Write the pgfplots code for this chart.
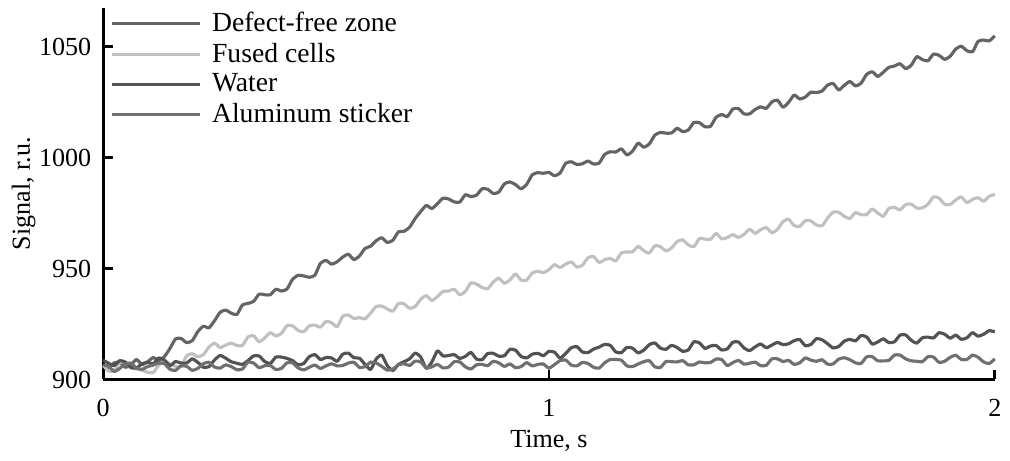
\documentclass[border=0pt]{standalone}
\usepackage{fontspec}
\setmainfont{Liberation Serif}
\usepackage{pgfplots}
\pgfplotsset{compat=1.18}
\definecolor{cdefect}{RGB}{100,100,100}
\definecolor{cfused}{RGB}{192,192,192}
\definecolor{cwater}{RGB}{82,82,82}
\definecolor{calum}{RGB}{112,112,112}
\begin{document}
\begin{tikzpicture}
\begin{axis}[
  scale only axis,
  width=342pt, height=142.5pt,
  xmin=0, xmax=2, ymin=900, ymax=1067.6,
  axis lines*=left,
  axis line style={line width=1.1pt},
  clip=false,
  xtick={0,1,2}, ytick={900,950,1000,1050},
  tick align=inside,
  major tick length=3.8pt,
  tick style={line width=1.1pt, black},
  /pgf/number format/assume math mode=true,
  /pgf/number format/1000 sep={},
  yticklabel style={xshift=-1pt},
  xticklabel style={yshift=-4pt},
  xlabel={Time, s},
  ylabel={Signal, r.u.},
  xlabel style={at={(axis description cs:0.5,-0.165)}, anchor=center},
  ylabel style={at={(axis description cs:-0.089,0.5)}, anchor=center},
  legend image code/.code={\draw[#1] (0pt,0pt) -- (34pt,0pt); \path (35.9pt,0pt);},
  legend style={at={(axis description cs:0,1)}, anchor=north west, xshift=2.5pt, yshift=0.6pt,
    draw=none, fill=none, inner sep=0pt, row sep=-1.1pt, cells={anchor=west},
    font=\fontsize{10.6}{12.7}\selectfont},
  every axis plot/.append style={line width=1.2pt, line join=round, smooth, tension=0.35},
]
\path (rel axis cs:-0.1156,-0.1973) rectangle (rel axis cs:1.0067,1.0213);

\addplot[color=cdefect] coordinates {
(0.0000,906) (0.0125,905.2) (0.0250,907.5) (0.0375,907.7) (0.0500,905.5) (0.0625,906.7) (0.0750,909) (0.0875,906.7)
(0.1000,908) (0.1125,909.9) (0.1250,908.5) (0.1375,910.3) (0.1500,914) (0.1625,918.3) (0.1750,918.5) (0.1875,916.6)
(0.2000,917.5) (0.2125,921.6) (0.2250,924) (0.2375,923.3) (0.2500,926.5) (0.2625,930.3) (0.2750,931.3) (0.2875,929.9)
(0.3000,929.3) (0.3125,933.6) (0.3250,934.3) (0.3375,935.2) (0.3500,938.5) (0.3625,938.2) (0.3750,938.2) (0.3875,940.7)
(0.4000,939.9) (0.4125,940.8) (0.4250,945.2) (0.4375,947) (0.4500,946.7) (0.4625,946.1) (0.4750,947) (0.4875,952.4)
(0.5000,953.7) (0.5125,952) (0.5250,953.1) (0.5375,955.2) (0.5500,956.5) (0.5625,954.1) (0.5750,955.7) (0.5875,959.1)
(0.6000,960.1) (0.6125,962.6) (0.6250,963.9) (0.6375,961.8) (0.6500,962.8) (0.6625,966.6) (0.6750,966.8) (0.6875,968.7)
(0.7000,972.6) (0.7125,975.8) (0.7250,978.5) (0.7375,977.1) (0.7500,979.3) (0.7625,981.8) (0.7750,981.4) (0.7875,980.1)
(0.8000,980) (0.8125,983.3) (0.8250,982.5) (0.8375,983.1) (0.8500,986) (0.8625,985.8) (0.8750,983.9) (0.8875,984.5)
(0.9000,988.2) (0.9125,989.1) (0.9250,987.9) (0.9375,986) (0.9500,988) (0.9625,992.3) (0.9750,993.3) (0.9875,993)
(1.0000,993.4) (1.0125,991.9) (1.0250,993.1) (1.0375,997.5) (1.0500,998.2) (1.0625,997) (1.0750,997.3) (1.0875,998.5)
(1.1000,997.2) (1.1125,997.6) (1.1250,1001.5) (1.1375,1002.7) (1.1500,1002.6) (1.1625,1004) (1.1750,1001.3) (1.1875,1003)
(1.2000,1006.6) (1.2125,1004.8) (1.2250,1006.2) (1.2375,1010.2) (1.2500,1011.4) (1.2625,1011.1) (1.2750,1011.2) (1.2875,1013.3)
(1.3000,1011.8) (1.3125,1012.5) (1.3250,1015.9) (1.3375,1015.8) (1.3500,1014) (1.3625,1014.2) (1.3750,1018.3) (1.3875,1019.5)
(1.4000,1018.6) (1.4125,1022) (1.4250,1022.2) (1.4375,1019.8) (1.4500,1019.8) (1.4625,1021.8) (1.4750,1023) (1.4875,1022.3)
(1.5000,1025.2) (1.5125,1026) (1.5250,1022.8) (1.5375,1025) (1.5500,1028.3) (1.5625,1026.5) (1.5750,1027.4) (1.5875,1029.6)
(1.6000,1029.4) (1.6125,1030.1) (1.6250,1032.8) (1.6375,1033.5) (1.6500,1030.6) (1.6625,1032.7) (1.6750,1034.4) (1.6875,1032.4)
(1.7000,1033.6) (1.7125,1037.6) (1.7250,1038.8) (1.7375,1036.7) (1.7500,1038.6) (1.7625,1040.8) (1.7750,1041.4) (1.7875,1042.4)
(1.8000,1040.2) (1.8125,1041.7) (1.8250,1045.6) (1.8375,1044.3) (1.8500,1043.7) (1.8625,1046.8) (1.8750,1046.2) (1.8875,1044.4)
(1.9000,1045.8) (1.9125,1049.1) (1.9250,1050.3) (1.9375,1048.3) (1.9500,1047.8) (1.9625,1052.5) (1.9750,1053.1) (1.9875,1052.7)
(2.0000,1055)
};
\addlegendentry{Defect-free zone}

\addplot[color=cfused] coordinates {
(0.0000,906.4) (0.0125,903.7) (0.0250,904.1) (0.0375,907.7) (0.0500,907.7) (0.0625,905.3) (0.0750,904.8) (0.0875,904.2)
(0.1000,903.2) (0.1125,903.1) (0.1250,906.5) (0.1375,908.2) (0.1500,907.1) (0.1625,905.9) (0.1750,905.8) (0.1875,910.7)
(0.2000,911.6) (0.2125,910.2) (0.2250,911.2) (0.2375,914.6) (0.2500,916.4) (0.2625,914.4) (0.2750,915.5) (0.2875,916.4)
(0.3000,915.3) (0.3125,915.3) (0.3250,919.2) (0.3375,919.7) (0.3500,917) (0.3625,918.7) (0.3750,921.1) (0.3875,919.6)
(0.4000,920.8) (0.4125,924.3) (0.4250,924.2) (0.4375,922.1) (0.4500,921.5) (0.4625,924.2) (0.4750,924.5) (0.4875,923.6)
(0.5000,926.2) (0.5125,925.6) (0.5250,923.8) (0.5375,928.5) (0.5500,929.1) (0.5625,927.5) (0.5750,927.9) (0.5875,927.3)
(0.6000,929.9) (0.6125,932.9) (0.6250,933.1) (0.6375,931.8) (0.6500,930.8) (0.6625,934.3) (0.6750,934.1) (0.6875,932.1)
(0.7000,932.9) (0.7125,936.2) (0.7250,937.8) (0.7375,935.6) (0.7500,937.4) (0.7625,939.7) (0.7750,939.9) (0.7875,940.7)
(0.8000,938.2) (0.8125,939.7) (0.8250,943.6) (0.8375,943) (0.8500,941.5) (0.8625,940.9) (0.8750,943.9) (0.8875,945.7)
(0.9000,943.4) (0.9125,944.9) (0.9250,947.6) (0.9375,944.8) (0.9500,944.8) (0.9625,948) (0.9750,948.8) (0.9875,948.2)
(1.0000,949.5) (1.0125,951.8) (1.0250,950.5) (1.0375,952) (1.0500,953) (1.0625,950.7) (1.0750,951.5) (1.0875,954.9)
(1.1000,955.5) (1.1125,952.8) (1.1250,954) (1.1375,954.6) (1.1500,953.5) (1.1625,957.1) (1.1750,957.5) (1.1875,957.6)
(1.2000,960) (1.2125,958.1) (1.2250,957) (1.2375,960.3) (1.2500,959.9) (1.2625,958) (1.2750,959.3) (1.2875,962.2)
(1.3000,963) (1.3125,960.7) (1.3250,959.9) (1.3375,963.6) (1.3500,963.3) (1.3625,963.2) (1.3750,965.9) (1.3875,963.4)
(1.4000,964) (1.4125,965.3) (1.4250,964.1) (1.4375,965.4) (1.4500,967.8) (1.4625,965.9) (1.4750,967.6) (1.4875,968.5)
(1.5000,966.2) (1.5125,967.7) (1.5250,971.2) (1.5375,972.3) (1.5500,969.4) (1.5625,969.1) (1.5750,971.6) (1.5875,971.5)
(1.6000,969.7) (1.6125,969.3) (1.6250,972.8) (1.6375,975.5) (1.6500,975.4) (1.6625,973.6) (1.6750,972.6) (1.6875,975.3)
(1.7000,974.3) (1.7125,974.4) (1.7250,976.9) (1.7375,975.1) (1.7500,973.6) (1.7625,977.2) (1.7750,977.6) (1.7875,976.5)
(1.8000,978.9) (1.8125,979.1) (1.8250,977.3) (1.8375,977.4) (1.8500,979) (1.8625,982.4) (1.8750,981.8) (1.8875,979)
(1.9000,978.9) (1.9125,981) (1.9250,982.3) (1.9375,979.8) (1.9500,981.2) (1.9625,982) (1.9750,980.4) (1.9875,982.6)
(2.0000,983.5)
};
\addlegendentry{Fused cells}

\addplot[color=cwater] coordinates {
(0.0000,908.7) (0.0125,907.3) (0.0250,906.3) (0.0375,908.5) (0.0500,907.8) (0.0625,905.4) (0.0750,905.2) (0.0875,907.1)
(0.1000,907.7) (0.1125,907.1) (0.1250,909.7) (0.1375,908.8) (0.1500,906.2) (0.1625,908.1) (0.1750,907.4) (0.1875,907.4)
(0.2000,909.3) (0.2125,907.7) (0.2250,905.5) (0.2375,905.8) (0.2500,908.8) (0.2625,910.8) (0.2750,909.6) (0.2875,908)
(0.3000,907.3) (0.3125,906.8) (0.3250,908.5) (0.3375,910.6) (0.3500,910.6) (0.3625,908.1) (0.3750,907.2) (0.3875,910.1)
(0.4000,910.1) (0.4125,909.5) (0.4250,908.5) (0.4375,906.6) (0.4500,907.2) (0.4625,910.3) (0.4750,911.2) (0.4875,909)
(0.5000,909.9) (0.5125,909.7) (0.5250,908.2) (0.5375,911.4) (0.5500,911.9) (0.5625,909.8) (0.5750,909.6) (0.5875,906.8)
(0.6000,904.5) (0.6125,909.2) (0.6250,911) (0.6375,906.2) (0.6500,904) (0.6625,906.8) (0.6750,908) (0.6875,909.3)
(0.7000,911.9) (0.7125,910.1) (0.7250,905) (0.7375,907.9) (0.7500,912.9) (0.7625,910.6) (0.7750,910.8) (0.7875,911.2)
(0.8000,909.5) (0.8125,910.4) (0.8250,912.2) (0.8375,909.2) (0.8500,908.9) (0.8625,911.7) (0.8750,911.8) (0.8875,910.5)
(0.9000,910.7) (0.9125,913.6) (0.9250,913.2) (0.9375,910.4) (0.9500,909.7) (0.9625,911.4) (0.9750,911.8) (0.9875,910.7)
(1.0000,912.7) (1.0125,912.3) (1.0250,909.6) (1.0375,911.7) (1.0500,914.3) (1.0625,914.8) (1.0750,912.4) (1.0875,912.1)
(1.1000,913.7) (1.1125,914.6) (1.1250,915.8) (1.1375,915.4) (1.1500,912.4) (1.1625,912.1) (1.1750,914.5) (1.1875,914.1)
(1.2000,912) (1.2125,913.2) (1.2250,915.7) (1.2375,916.5) (1.2500,914.1) (1.2625,913.6) (1.2750,915.4) (1.2875,914.4)
(1.3000,912.7) (1.3125,913.3) (1.3250,917) (1.3375,916.5) (1.3500,914) (1.3625,915.1) (1.3750,915.3) (1.3875,913.3)
(1.4000,913.8) (1.4125,916.8) (1.4250,916.9) (1.4375,914.2) (1.4500,913) (1.4625,914.7) (1.4750,916) (1.4875,914.3)
(1.5000,915.5) (1.5125,916.7) (1.5250,915.7) (1.5375,916.1) (1.5500,917.5) (1.5625,918) (1.5750,915.2) (1.5875,915.8)
(1.6000,918.4) (1.6125,917.9) (1.6250,916.1) (1.6375,914.2) (1.6500,914.9) (1.6625,917.3) (1.6750,918.1) (1.6875,917.4)
(1.7000,919.8) (1.7125,919.2) (1.7250,916) (1.7375,916.9) (1.7500,918.3) (1.7625,916.6) (1.7750,917) (1.7875,920)
(1.8000,920.1) (1.8125,917.7) (1.8250,916.4) (1.8375,918.8) (1.8500,919.1) (1.8625,918.7) (1.8750,921.1) (1.8875,920.4)
(1.9000,918.6) (1.9125,920) (1.9250,918.1) (1.9375,918.8) (1.9500,921.1) (1.9625,919.5) (1.9750,920.4) (1.9875,922)
(2.0000,921.5)
};
\addlegendentry{Water}

\addplot[color=calum] coordinates {
(0.0000,906.5) (0.0125,906) (0.0250,903.6) (0.0375,905) (0.0500,907) (0.0625,907.4) (0.0750,905.1) (0.0875,904.6)
(0.1000,905.8) (0.1125,906.5) (0.1250,907.4) (0.1375,907.1) (0.1500,904.6) (0.1625,904.1) (0.1750,906.2) (0.1875,905.9)
(0.2000,904.1) (0.2125,905) (0.2250,907.1) (0.2375,907.8) (0.2500,905.6) (0.2625,905.1) (0.2750,906.6) (0.2875,905.8)
(0.3000,904.4) (0.3125,904.7) (0.3250,907.8) (0.3375,907.4) (0.3500,905.3) (0.3625,906.2) (0.3750,906.3) (0.3875,904.5)
(0.4000,905) (0.4125,907.5) (0.4250,907.5) (0.4375,905.2) (0.4500,904.3) (0.4625,905.5) (0.4750,906.5) (0.4875,905)
(0.5000,906.1) (0.5125,907.1) (0.5250,906.1) (0.5375,906.3) (0.5500,907.4) (0.5625,907.8) (0.5750,905.4) (0.5875,905.8)
(0.6000,907.8) (0.6125,907.4) (0.6250,905.9) (0.6375,904.2) (0.6500,904.7) (0.6625,906.6) (0.6750,907.1) (0.6875,906.3)
(0.7000,908.3) (0.7125,907.9) (0.7250,905.2) (0.7375,905.7) (0.7500,906.8) (0.7625,905.2) (0.7750,905.6) (0.7875,908)
(0.8000,907.9) (0.8125,905.7) (0.8250,904.7) (0.8375,906.6) (0.8500,906.8) (0.8625,906.2) (0.8750,908.2) (0.8875,907.5)
(0.9000,905.9) (0.9125,907) (0.9250,905.3) (0.9375,905.8) (0.9500,907.6) (0.9625,906.1) (0.9750,906.8) (0.9875,907)
(1.0000,905.1) (1.0125,906.7) (1.0250,908.5) (1.0375,908.8) (1.0500,906.5) (1.0625,906.1) (1.0750,907.7) (1.0875,907.2)
(1.1000,905.5) (1.1125,905.1) (1.1250,907.5) (1.1375,909) (1.1500,909) (1.1625,908.7) (1.1750,906.1) (1.1875,905.8)
(1.2000,907) (1.2125,908) (1.2250,908.5) (1.2375,905.7) (1.2500,905.4) (1.2625,908.1) (1.2750,908) (1.2875,907.9)
(1.3000,908.5) (1.3125,906.6) (1.3250,906.6) (1.3375,907.9) (1.3500,907.5) (1.3625,907.7) (1.3750,909.2) (1.3875,909)
(1.4000,906.3) (1.4125,907.6) (1.4250,908.6) (1.4375,906.9) (1.4500,907.3) (1.4625,907.8) (1.4750,906.2) (1.4875,906.4)
(1.5000,909.3) (1.5125,909.3) (1.5250,908.1) (1.5375,908.6) (1.5500,906.8) (1.5625,907.5) (1.5750,909.7) (1.5875,908.7)
(1.6000,908.2) (1.6125,908.9) (1.6250,906.9) (1.6375,907) (1.6500,909.2) (1.6625,909.8) (1.6750,908.9) (1.6875,907.5)
(1.7000,907.2) (1.7125,910.2) (1.7250,910.3) (1.7375,908.4) (1.7500,908.4) (1.7625,908.6) (1.7750,911) (1.7875,911)
(1.8000,909.3) (1.8125,908.4) (1.8250,908.2) (1.8375,908) (1.8500,910.3) (1.8625,910.1) (1.8750,907.7) (1.8875,908.2)
(1.9000,910) (1.9125,910.9) (1.9250,909) (1.9375,909) (1.9500,911) (1.9625,910) (1.9750,907.9) (1.9875,907.2)
(2.0000,909.3)
};
\addlegendentry{Aluminum sticker}
\end{axis}
\end{tikzpicture}
\end{document}
